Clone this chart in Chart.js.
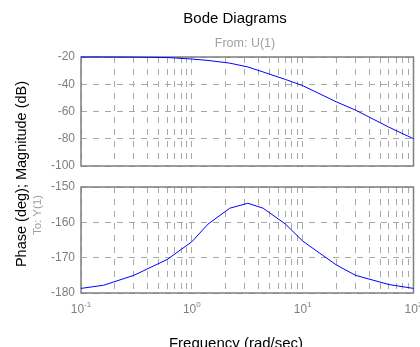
<!DOCTYPE html>
<html>
<head>
<meta charset="utf-8">
<script src="https://cdn.jsdelivr.net/npm/chart.js@4.4.0/dist/chart.umd.min.js"></script>
<style>
  body { margin: 0; background: #fff; }
  #wrap { position: relative; width: 420px; height: 347px; overflow: hidden; font-family: "Liberation Sans", Arial, sans-serif; }
  #wrap canvas { position: absolute; left: 0; top: 0; }
  .txt { position: absolute; white-space: nowrap; line-height: 1; }
  .rot { transform: translate(-50%, -50%) rotate(-90deg); }
  .ctr { transform: translate(-50%, -50%); }
</style>
</head>
<body>
<div id="wrap">
  <canvas id="magChart" width="420" height="347"></canvas>
  <canvas id="phaseChart" width="420" height="347"></canvas>
  <div class="txt ctr" style="left:235px; top:17px; font-size:15px; color:#000;">Bode Diagrams</div>
  <div class="txt ctr" style="left:245px; top:43px; font-size:12.5px; color:#a0a0a0;">From: U(1)</div>
  <div class="txt rot" style="left:21px; top:174px; font-size:14.5px; color:#000;">Phase (deg); Magnitude (dB)</div>
  <div class="txt rot" style="left:38px; top:215px; font-size:11.5px; color:#a0a0a0;">To: Y(1)</div>
  <div class="txt ctr" style="left:236px; top:342px; font-size:15px; color:#000;">Frequency (rad/sec)</div>
</div>
<script>
// frequency response samples (rad/sec)
const freq = [0.1, 0.16, 0.3, 0.6, 1, 1.4, 2.2, 3.2, 4.4, 7, 10, 20, 30, 60, 100];
const magnitude = [-20, -20, -20.1, -20.4, -21.5, -22.5, -24.5, -27.3, -31, -36.5, -41, -52.8, -59, -71.5, -80];
const phase = [-178.7, -177.8, -175, -170.5, -165.5, -160.5, -156, -154.6, -156, -160.5, -165.3, -172, -175, -177.6, -178.7];

const magTicks = [-100, -80, -60, -40, -20];
const phaseTicks = [-180, -170, -160, -150];
const decades = [0.1, 1, 10, 100];
const decadeExp = ['-1', '0', '1', '2'];

// vertical grid at every 1..9 x 10^n
const gridFreqs = [];
[0.1, 1, 10].forEach(d => { for (let k = 1; k < 10; k++) gridFreqs.push(+(k * d).toPrecision(3)); });
gridFreqs.push(100);

const gridColor = '#a8a8a8';
const axisColor = '#7f7f7f';
const dash = [6, 6];

const boxPlugin = {
  id: 'box',
  beforeDatasetsDraw(chart) {
    const a = chart.chartArea, ctx = chart.ctx;
    ctx.save();
    ctx.strokeStyle = axisColor;
    ctx.lineWidth = 1.5;
    ctx.strokeRect(a.left, a.top, a.right - a.left, a.bottom - a.top);
    ctx.restore();
  }
};

const decadeLabels = {
  id: 'decadeLabels',
  afterDraw(chart) {
    const ctx = chart.ctx, xs = chart.scales.x;
    ctx.save();
    ctx.fillStyle = axisColor;
    ctx.textBaseline = 'alphabetic';
    decades.forEach((v, i) => {
      const x = xs.getPixelForValue(v);
      ctx.font = '12px "Liberation Sans", Arial, sans-serif';
      const wb = ctx.measureText('10').width;
      ctx.font = '8px "Liberation Sans", Arial, sans-serif';
      const we = ctx.measureText(decadeExp[i]).width;
      const x0 = x - (wb + we) / 2;
      ctx.font = '12px "Liberation Sans", Arial, sans-serif';
      ctx.fillText('10', x0, 313);
      ctx.font = '8px "Liberation Sans", Arial, sans-serif';
      ctx.fillText(decadeExp[i], x0 + wb, 307);
    });
    ctx.restore();
  }
};

function bodeChart(id, values, ticks, top, bottom, plugins) {
  return new Chart(document.getElementById(id), {
    type: 'line',
    data: {
      datasets: [{
        data: freq.map((f, i) => ({ x: f, y: values[i] })),
        borderColor: '#0000ff',
        borderWidth: 1,
        pointRadius: 0,
        tension: 0,
        clip: 2
      }]
    },
    options: {
      responsive: false,
      animation: false,
      devicePixelRatio: 1,
      layout: { padding: { left: 0, right: 6.5, top: top, bottom: 347 - bottom } },
      plugins: { legend: { display: false }, tooltip: { enabled: false } },
      scales: {
        x: {
          type: 'logarithmic',
          min: 0.1,
          max: 100,
          afterBuildTicks: s => { s.ticks = gridFreqs.map(v => ({ value: v })); },
          afterFit: s => { s.height = 0; },
          ticks: { display: false },
          grid: { color: gridColor, lineWidth: 1, drawTicks: false },
          border: { display: false, dash: dash }
        },
        y: {
          min: ticks[0],
          max: ticks[ticks.length - 1],
          afterBuildTicks: s => { s.ticks = ticks.map(v => ({ value: v })); },
          afterFit: s => { s.width = 81; },
          ticks: {
            color: axisColor,
            padding: 6,
            font: { family: '"Liberation Sans", Arial, sans-serif', size: 12 }
          },
          grid: { color: gridColor, lineWidth: 1, drawTicks: false },
          border: { display: false, dash: dash }
        }
      }
    },
    plugins: plugins
  });
}

bodeChart('magChart', magnitude, magTicks, 57, 166, [boxPlugin]);
bodeChart('phaseChart', phase, phaseTicks, 187, 293, [boxPlugin, decadeLabels]);
</script>
</body>
</html>
